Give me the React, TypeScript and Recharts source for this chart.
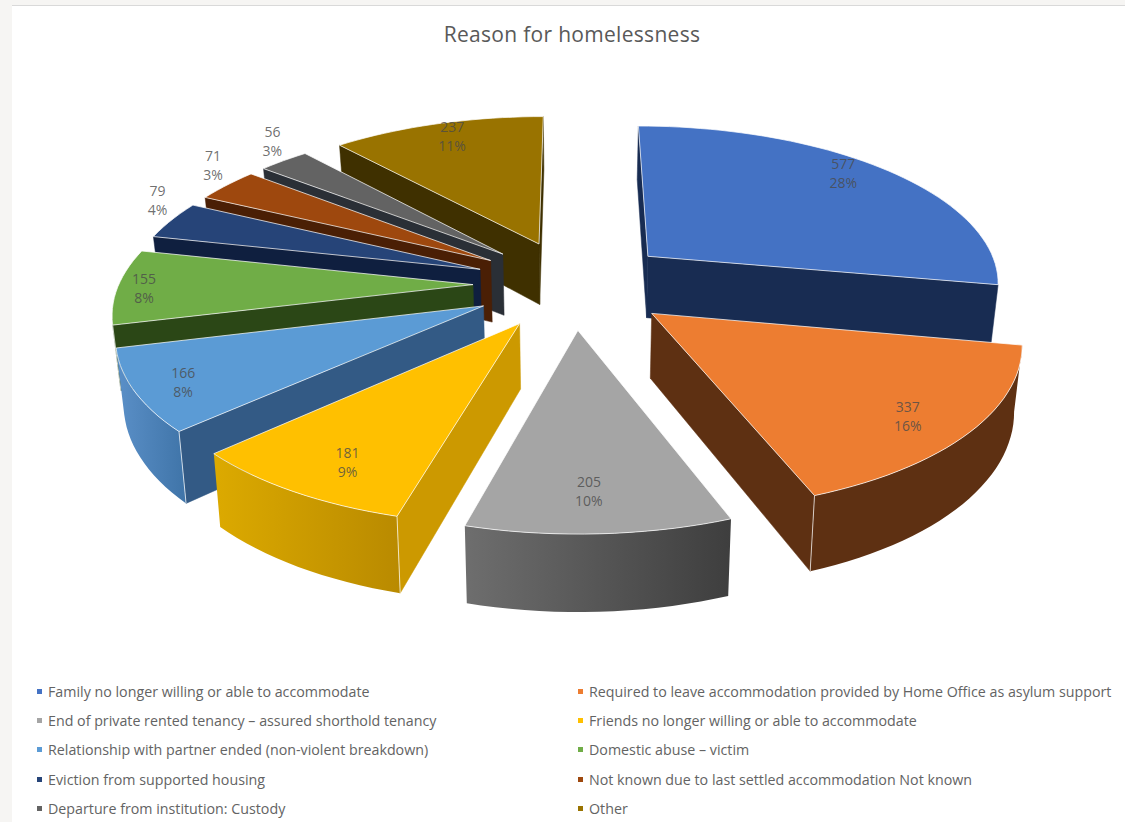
import React from "react";
import { PieChart, Pie, Legend } from "recharts";

// Homelessness reasons, in reading order around the pie.
const categories = [
  "Family no longer willing or able to accommodate",
  "Required to leave accommodation provided by Home Office as asylum support",
  "End of private rented tenancy – assured shorthold tenancy",
  "Friends no longer willing or able to accommodate",
  "Relationship with partner ended (non-violent breakdown)",
  "Domestic abuse – victim",
  "Eviction from supported housing",
  "Not known due to last settled accommodation Not known",
  "Departure from institution: Custody",
  "Other",
];
const households = [577, 337, 205, 181, 166, 155, 79, 71, 56, 237];

const topColors = ["#4472c4", "#ed7d31", "#a5a5a5", "#ffc000", "#5b9bd5", "#70ad47", "#264478", "#9e480e", "#636363", "#997300"];
const sideColors = ["#182c52", "#5e3012", "#555555", "#cc9900", "#335a85", "#2b4716", "#0f1f3f", "#4a1f05", "#2a2f36", "#3f3000"];
const rimFrom = ["#182c52", "#5e3012", "#6e6e6e", "#dcaa00", "#5b90c8", "#2b4716", "#0f1f3f", "#4a1f05", "#2a2f36", "#3f3000"];
const rimTo = ["#182c52", "#5e3012", "#3e3e3e", "#b98a00", "#3f74a8", "#2b4716", "#0f1f3f", "#4a1f05", "#2a2f36", "#3f3000"];

// Where each value label sits on its slice: fraction of the radius, and a turn in degrees.
const labelReach = [0.88, 0.84, 0.815, 0.825, 0.875, 0.925, 1.12, 1.15, 1.16, 0.885];
const labelTurn = [-4, 2, 1, -2, -1, -0.5, 6, 5, 4, 1];

const total = households.reduce((a, b) => a + b, 0);
const rows = categories.map((name, rank) => ({ name, rank, value: households[rank], fill: topColors[rank] }));

// The pie is split so slices paint from back to front on each side.
const rightRows = rows.slice(0, 3);
const leftRows = rows.slice(3).reverse();
const sum = (list: typeof rows) => list.reduce((a, r) => a + r.value, 0);

const CX = 573;
const CY = 284;
const RADIUS = 354;
const TILT = 0.445;
const PERSPECTIVE = 0.15;
const EXPLODE = 100;
const DEPTH = 63;
const BASE_SHRINK = 0.982;

type P = { x: number; y: number; s: number };

// Plan position (X to the right, Y towards the viewer) onto the page.
const project = (X: number, Y: number): P => {
  const s = 1 / (1 - (PERSPECTIVE * Y) / RADIUS);
  return { x: CX + X * s, y: CY + TILT * Y * s, s };
};
const rad = (d: number) => (d * Math.PI) / 180;
const planPoint = (clock: number, r: number, mid: number) => {
  const X = EXPLODE * Math.sin(rad(mid)) + r * Math.sin(rad(clock));
  const Y = -EXPLODE * Math.cos(rad(mid)) - r * Math.cos(rad(clock));
  return project(X, Y);
};
// The underside is further from the eye, so it draws slightly narrower.
const down = (p: P) => ({ x: CX + (p.x - CX) * BASE_SHRINK, y: p.y + DEPTH * p.s });
const pathOf = (pts: { x: number; y: number }[]) =>
  "M" + pts.map((p) => `${p.x.toFixed(1)},${p.y.toFixed(1)}`).join("L") + "Z";

const clockRange = (startAngle: number, endAngle: number) => {
  const a = 90 - startAngle;
  const b = 90 - endAngle;
  return [Math.min(a, b), Math.max(a, b)];
};

// One raised, pulled-out slice: side walls that face the viewer, then the top face.
const SliceShape = (props: any) => {
  const { startAngle, endAngle, payload, fill } = props;
  const rank = payload.rank ?? props.rank;
  const [lo, hi] = clockRange(startAngle, endAngle);
  const mid = (lo + hi) / 2;
  const steps = Math.max(6, Math.ceil((hi - lo) / 2));
  const arc: P[] = [];
  for (let i = 0; i <= steps; i++) arc.push(planPoint(lo + ((hi - lo) * i) / steps, RADIUS, mid));
  const apex = planPoint(mid, 0, mid);
  const first = arc[0];
  const last = arc[arc.length - 1];

  const front: P[] = [];
  for (let i = 0; i < arc.length; i++) {
    const leftward =
      (i < arc.length - 1 && arc[i + 1].x < arc[i].x) || (i > 0 && arc[i].x < arc[i - 1].x);
    if (leftward) front.push(arc[i]);
  }
  const gid = `rim-${rank}`;
  const edge = "rgba(255,255,255,0.72)";
  return (
    <g>
      <defs>
        <linearGradient id={gid} x1="0" y1="0" x2="1" y2="0">
          <stop offset="0" stopColor={rimFrom[rank]} />
          <stop offset="1" stopColor={rimTo[rank]} />
        </linearGradient>
      </defs>
      {first.x < apex.x && (
        <path d={pathOf([apex, first, down(first), down(apex)])} fill={sideColors[rank]} stroke={sideColors[rank]} strokeWidth={0.5} />
      )}
      {apex.x < last.x && (
        <path d={pathOf([last, apex, down(apex), down(last)])} fill={sideColors[rank]} stroke={sideColors[rank]} strokeWidth={0.5} />
      )}
      {front.length > 1 && (
        <path d={pathOf([...front, ...front.slice().reverse().map(down)])} fill={`url(#${gid})`} />
      )}
      {first.x < apex.x && front.length > 1 && (
        <line x1={first.x} y1={first.y} x2={down(first).x} y2={down(first).y} stroke={edge} strokeWidth={1} />
      )}
      {apex.x < last.x && front.length > 1 && (
        <line x1={last.x} y1={last.y} x2={down(last).x} y2={down(last).y} stroke={edge} strokeWidth={1} />
      )}
      <path d={pathOf([apex, ...arc])} fill={fill} stroke={edge} strokeWidth={1} strokeLinejoin="round" />
    </g>
  );
};

// Two-line value and share label placed on the same projection as the slices.
const SliceLabel = (props: any) => {
  const { payload, midAngle } = props;
  const rank = payload.rank;
  const clock = 90 - midAngle;
  const p = planPoint(clock + labelTurn[rank], RADIUS * labelReach[rank], clock);
  const value = payload.value;
  return (
    <text x={p.x} y={p.y - 4} textAnchor="middle" fontFamily="Open Sans" fontSize={14} fill="#4a4a4a" fillOpacity={0.8}>
      <tspan x={p.x}>{value}</tspan>
      <tspan x={p.x} dy={19}>{`${Math.round((value / total) * 100)}%`}</tspan>
    </text>
  );
};

// Two-column key, kept in category order whichever pie an entry came from.
const KeyTable = (props: any) => {
  const entries = categories.map((name) => (props.payload || []).find((e: any) => e.value === name)).filter(Boolean);
  return (
    <div style={{ display: "grid", gridTemplateColumns: "541px 1fr", gridAutoRows: "29.2px", fontFamily: "Open Sans", fontSize: 14.25, color: "#636363" }}>
      {entries.map((e: any) => (
        <div key={e.value} style={{ display: "flex", alignItems: "center", whiteSpace: "nowrap" }}>
          <span style={{ width: 5, height: 5, background: e.color, marginRight: 6, flex: "none" }} />
          {e.value}
        </div>
      ))}
    </div>
  );
};

export default function App() {
  return (
    <div style={{ position: "absolute", left: 0, top: 0, width: 1125, height: 822, background: "#f6f5f3", overflow: "hidden" }}>
      <div style={{ position: "absolute", left: 12, top: 5, right: 0, bottom: 0, background: "#ffffff", borderTop: "1.5px solid #d9d9d9" }} />
      <div style={{ position: "absolute", left: 0, top: 0 }}>
        <PieChart width={1125} height={822} margin={{ top: 0, right: 0, bottom: 0, left: 0 }}>
          <text x={572} y={42} textAnchor="middle" fontFamily="Open Sans" fontSize={21} letterSpacing={0.3} fill="#595959">
            Reason for homelessness
          </text>
          <Pie
            data={leftRows}
            dataKey="value"
            nameKey="name"
            cx={CX}
            cy={CY}
            innerRadius={0}
            outerRadius={RADIUS}
            startAngle={90}
            endAngle={90 + (360 * sum(leftRows)) / total}
            shape={SliceShape}
            label={SliceLabel}
            labelLine={false}
            isAnimationActive={false}
            legendType="square"
          />
          <Pie
            data={rightRows}
            dataKey="value"
            nameKey="name"
            cx={CX}
            cy={CY}
            innerRadius={0}
            outerRadius={RADIUS}
            startAngle={90}
            endAngle={90 - (360 * sum(rightRows)) / total}
            shape={SliceShape}
            label={SliceLabel}
            labelLine={false}
            isAnimationActive={false}
            legendType="square"
          />
          <Legend content={KeyTable} wrapperStyle={{ left: 37, top: 677, width: 1085, bottom: "auto" }} />
        </PieChart>
      </div>
    </div>
  );
}
